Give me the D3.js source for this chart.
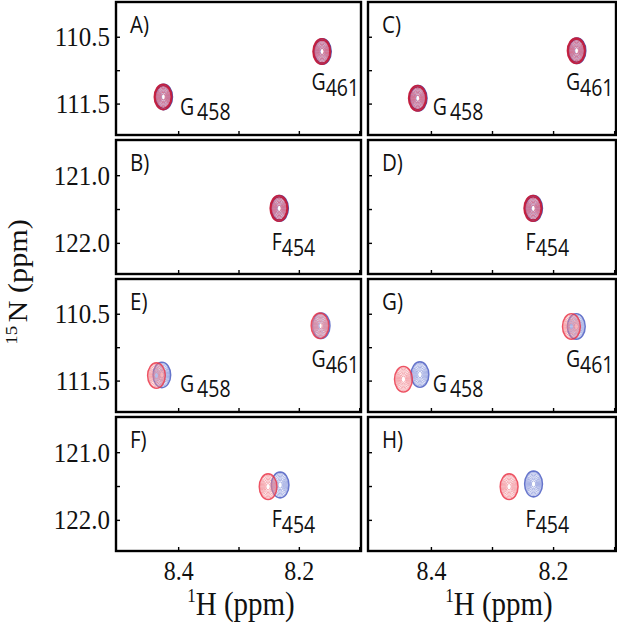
<!DOCTYPE html>
<html>
<head>
<meta charset="utf-8">
<script src="https://cdn.jsdelivr.net/npm/d3@7/dist/d3.min.js"></script>
<style>
  html, body { margin: 0; padding: 0; background: #fff; }
  svg { display: block; }
</style>
</head>
<body>
<script>
// ---------------- DATA ----------------
const panelIds    = ["A", "B", "C", "D", "E", "F", "G", "H"];
const panelRegion = ["Gly", "Phe", "Gly", "Phe", "Gly", "Phe", "Gly", "Phe"];

const xDomain   = [8.503, 8.097];            // 1H (ppm)
const glyDomain = [109.98, 111.97];          // 15N (ppm), glycine window
const pheDomain = [120.48, 122.46];          // 15N (ppm), F454 window

const xTicks        = [8.4, 8.3, 8.2, 8.1];
const xTickLabels   = [8.4, 8.2];
const glyTicks      = [110.5, 111.0, 111.5];
const glyTickLabels = [110.5, 111.5];
const pheTicks      = [121.0, 121.5, 122.0];
const pheTickLabels = [121.0, 122.0];

// peaks: panel, residue, red (H, N), blue (H, N)
const peakPanel   = ["A", "A", "B", "C", "C", "D", "E", "E", "F", "G", "G", "H"];
const peakResidue = ["G458", "G461", "F454", "G458", "G461", "F454", "G458", "G461", "F454", "G458", "G461", "F454"];
const redH  = [8.425, 8.162, 8.233, 8.422, 8.162, 8.233, 8.436, 8.165, 8.251, 8.445, 8.170, 8.272];
const redN  = [111.40, 110.72, 121.49, 111.42, 110.71, 121.49, 111.425, 110.68, 121.51, 111.48, 110.69, 121.51];
const blueH = [8.424, 8.161, 8.232, 8.421, 8.161, 8.232, 8.427, 8.163, 8.231, 8.418, 8.162, 8.232];
const blueN = [111.40, 110.72, 121.49, 111.42, 110.71, 121.49, 111.415, 110.68, 121.485, 111.41, 110.69, 121.47];

// ---------------- DRAWING ----------------
const W = 617, H = 625;
const svg = d3.select("body").append("svg").attr("width", W).attr("height", H);

const colX = [[116, 361], [368, 616]];
const rowY = [[2, 135], [140, 274], [279, 412], [417, 551]];
const layout = { A: [0, 0], B: [0, 1], C: [1, 0], D: [1, 1], E: [0, 2], F: [0, 3], G: [1, 2], H: [1, 3] };

// residue label anchors in ppm (data units)
const labelAnchor = {
  G458: { h: 8.397, n: 111.67, gap: true },
  G461: { h: 8.179, n: 111.30, gap: false },
  F454: { h: 8.245, n: 122.11, gap: false }
};

const SANS = "'Open Sans', 'Noto Sans', sans-serif";
const SERIF = "'Liberation Serif', 'Times New Roman', serif";

const defs = svg.append("defs");

function drawPeak(g, x, y, h, n, outer, inner, strong) {
  const wH = 0.0145, wN = 0.19;
  const L = 8;
  const pg = g.append("g");
  for (let k = 0; k < L; k++) {
    const s = 1 - k * (0.86 / L);
    pg.append("ellipse")
      .attr("cx", x(h)).attr("cy", y(n))
      .attr("rx", Math.abs(x(h + wH * s) - x(h)))
      .attr("ry", Math.abs(y(n + wN * s) - y(n)))
      .attr("fill", "none")
      .attr("stroke", k < (strong ? 2 : 1) ? outer : inner)
      .attr("stroke-opacity", strong ? 0.95 : 0.85)
      .attr("stroke-width", k === 0 ? 1.6 : (k === 1 && strong ? 1.2 : 0.8));
  }
}

function stretchedText(parent, x, y, sy) {
  return parent.append("text").attr("transform", `translate(${x},${y}) scale(1,${sy})`);
}

panelIds.forEach((id, pi) => {
  const [c, r] = layout[id];
  const region = panelRegion[pi];
  const x = d3.scaleLinear().domain(xDomain).range(colX[c]);
  const y = d3.scaleLinear().domain(region === "Gly" ? glyDomain : pheDomain).range(rowY[r]);
  const [x0, x1] = colX[c], [y0, y1] = rowY[r];
  const g = svg.append("g");

  const clipId = "clip" + id;
  defs.append("clipPath").attr("id", clipId)
    .append("rect").attr("x", x0).attr("y", y0).attr("width", x1 - x0).attr("height", y1 - y0);
  const pg = g.append("g").attr("clip-path", `url(#${clipId})`);

  const strong = ["A", "B", "C", "D"].includes(id);
  const redOuter  = strong ? "#c81c3a" : "#ea3548";
  const redInner  = strong ? "#e0607a" : "#f07f8a";
  const blueOuter = strong ? "#4050b0" : "#4a5cc2";
  const blueInner = strong ? "#7d88cc" : "#7f8ed8";

  peakPanel.forEach((p, i) => {
    if (p !== id) return;
    drawPeak(pg, x, y, blueH[i], blueN[i], blueOuter, blueInner, strong);
    drawPeak(pg, x, y, redH[i], redN[i], redOuter, redInner, strong);
    const a = labelAnchor[peakResidue[i]];
    const t = stretchedText(g, x(a.h), y(a.n), 1.18)
      .attr("font-family", SANS).attr("font-size", 19.5).attr("fill", "#111");
    t.append("tspan").text(peakResidue[i][0]);
    t.append("tspan").attr("dy", 4.5).attr("dx", a.gap ? 3 : 0).text(peakResidue[i].slice(1));
  });

  // left ticks (inward)
  const ticks = region === "Gly" ? glyTicks : pheTicks;
  const tickLabs = region === "Gly" ? glyTickLabels : pheTickLabels;
  const yAxis = d3.axisLeft(y).tickValues(ticks).tickSize(-4).tickPadding(6)
    .tickFormat(d => (c === 0 && tickLabs.includes(d)) ? d3.format(".1f")(d) : "");
  const ya = g.append("g").attr("transform", `translate(${x0},0)`).call(yAxis);
  ya.select(".domain").remove();
  ya.selectAll("line").attr("stroke", "#000").attr("stroke-width", 1.4);
  ya.selectAll("text").attr("font-family", SERIF)
    .attr("font-size", 25).attr("fill", "#111").attr("transform", "scale(1,1.12)");

  // bottom ticks (inward)
  const showX = (r === 3);
  const xAxis = d3.axisBottom(x).tickValues(xTicks).tickSize(-4).tickPadding(9)
    .tickFormat(d => (showX && xTickLabels.includes(d)) ? d3.format(".1f")(d) : "");
  const xa = g.append("g").attr("transform", `translate(0,${y1})`).call(xAxis);
  xa.select(".domain").remove();
  xa.selectAll("line").attr("stroke", "#000").attr("stroke-width", 1.4);
  xa.selectAll("text").attr("font-family", SERIF)
    .attr("font-size", 24).attr("fill", "#111").attr("transform", "scale(1,1.1)");

  // frame
  g.append("rect").attr("x", x0).attr("y", y0).attr("width", x1 - x0).attr("height", y1 - y0)
    .attr("fill", "none").attr("stroke", "#000").attr("stroke-width", 2.4);

  // panel letter
  stretchedText(g, x0 + 14, y0 + 31, 1.15)
    .attr("font-family", SANS)
    .attr("font-size", 20.5).attr("fill", "#111").text(id + ")");
});

// x axis titles
[241, 499].forEach(cx => {
  const t = stretchedText(svg, cx, 615, 1.15).attr("text-anchor", "middle")
    .attr("font-family", SERIF).attr("font-size", 29).attr("fill", "#111");
  t.append("tspan").attr("font-size", 17).attr("dy", -11).text("1");
  t.append("tspan").attr("dy", 11).text("H (ppm)");
});

// y axis title
const yt = svg.append("text")
  .attr("transform", "translate(27,282) rotate(-90) scale(1.12,1)")
  .attr("text-anchor", "middle")
  .attr("font-family", SERIF)
  .attr("font-size", 27).attr("fill", "#111");
yt.append("tspan").attr("font-size", 17).attr("dy", -10).text("15");
yt.append("tspan").attr("dy", 10).attr("dx", 3).text("N (ppm)");
</script>
</body>
</html>
